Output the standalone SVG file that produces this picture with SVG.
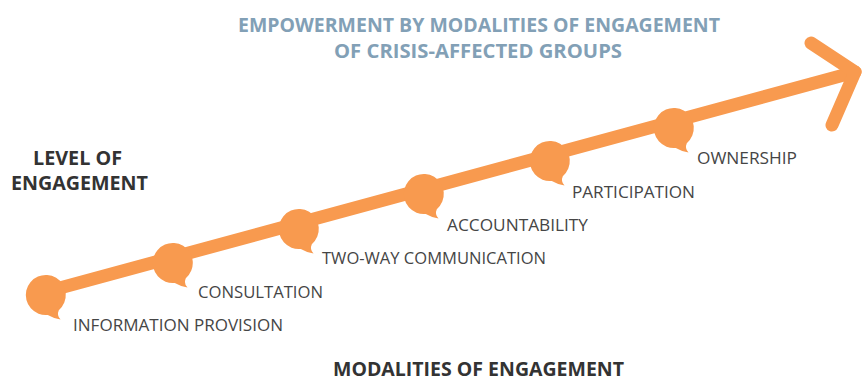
<svg xmlns="http://www.w3.org/2000/svg" width="862" height="382" viewBox="0 0 862 382">
  <style>
    .lbl { font-family: "Open Sans", "Liberation Sans", sans-serif; font-size: 16px; fill: #454545; }
    .title { font-family: "Open Sans", "Liberation Sans", sans-serif; font-size: 20px; font-weight: bold; fill: #82a0b6; }
    .axis { font-family: "Open Sans", "Liberation Sans", sans-serif; font-size: 20px; font-weight: bold; fill: #333333; }
    .bubble { fill: #f89a4f; }
    .shaft { fill: none; stroke: #f89a4f; stroke-width: 13; stroke-linecap: round; stroke-linejoin: round; }
  </style>
  <defs>
    <!-- speech-bubble marker: round body with a small tail to the lower right -->
    <path id="bub" d="M 12.8,15.2 A 20 20 0 1 0 1.8,19.9 Q 8,23.5 14.5,24.5 Q 10.5,20.5 12.8,15.2 Z"/>
  </defs>

  <g id="title">
    <text class="title" x="238" y="32" textLength="482" lengthAdjust="spacingAndGlyphs">EMPOWERMENT BY MODALITIES OF ENGAGEMENT</text>
    <text class="title" x="334" y="58" textLength="288" lengthAdjust="spacingAndGlyphs">OF CRISIS-AFFECTED GROUPS</text>
  </g>

  <g id="y-axis-label">
    <text class="axis" x="33" y="165" textLength="89" lengthAdjust="spacingAndGlyphs">LEVEL OF</text>
    <text class="axis" x="11" y="190" textLength="137" lengthAdjust="spacingAndGlyphs">ENGAGEMENT</text>
  </g>

  <g id="x-axis-label">
    <text class="axis" x="333" y="376" textLength="291" lengthAdjust="spacingAndGlyphs">MODALITIES OF ENGAGEMENT</text>
  </g>

  <g id="connectors">
    <polyline class="shaft" points="45,292 855,72"/>
    <polyline class="shaft" points="811,43 855,72 832,125"/>
  </g>

  <g id="information-provision">
    <use href="#bub" class="bubble" transform="translate(46,295)"/>
    <text class="lbl" x="73" y="331" textLength="210" lengthAdjust="spacingAndGlyphs">INFORMATION PROVISION</text>
  </g>
  <g id="consultation">
    <use href="#bub" class="bubble" transform="translate(173,263)"/>
    <text class="lbl" x="198" y="298" textLength="125" lengthAdjust="spacingAndGlyphs">CONSULTATION</text>
  </g>
  <g id="two-way-communication">
    <use href="#bub" class="bubble" transform="translate(299,229)"/>
    <text class="lbl" x="322" y="264" textLength="224" lengthAdjust="spacingAndGlyphs">TWO-WAY COMMUNICATION</text>
  </g>
  <g id="accountability">
    <use href="#bub" class="bubble" transform="translate(424,194)"/>
    <text class="lbl" x="447" y="231" textLength="141" lengthAdjust="spacingAndGlyphs">ACCOUNTABILITY</text>
  </g>
  <g id="participation">
    <use href="#bub" class="bubble" transform="translate(550,161)"/>
    <text class="lbl" x="572" y="198" textLength="123" lengthAdjust="spacingAndGlyphs">PARTICIPATION</text>
  </g>
  <g id="ownership">
    <use href="#bub" class="bubble" transform="translate(674,128)"/>
    <text class="lbl" x="697" y="164" textLength="100" lengthAdjust="spacingAndGlyphs">OWNERSHIP</text>
  </g>
</svg>
